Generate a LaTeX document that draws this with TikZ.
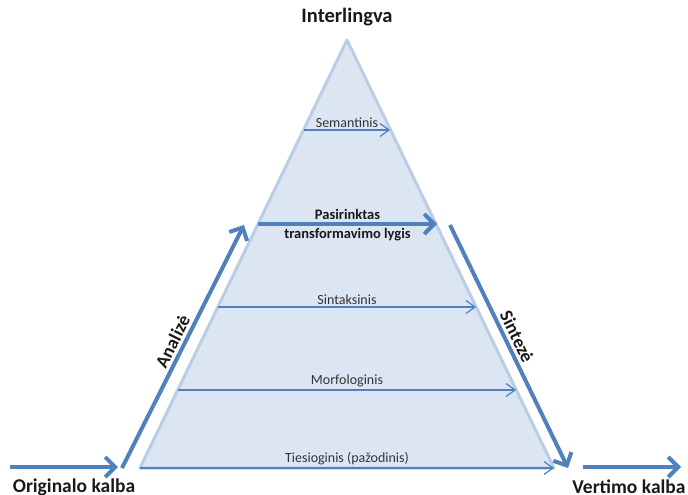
\documentclass[tikz,border=0pt]{standalone}
\usepackage{fontspec}
\setmainfont{Carlito}
\usetikzlibrary{arrows.meta}
\definecolor{pyrfill}{HTML}{DCE6F2}
\definecolor{pyredge}{HTML}{B9CDE5}
\definecolor{arrblue}{HTML}{4F81BD}

\begin{document}
\begin{tikzpicture}[x=1pt, y=-1pt,
  lvl/.style={font=\fontsize{14}{16}\selectfont, text=black!80, inner sep=2pt},
  lvlb/.style={font=\fontsize{14.5}{17}\selectfont\bfseries, text=black!90, inner sep=2pt},
  bigl/.style={font=\fontsize{19.5}{23}\selectfont\bfseries, text=black!90},
  slopel/.style={font=\fontsize{18.5}{22}\selectfont\bfseries, text=black!90, sloped, above, inner sep=3pt},
  thinarr/.style={draw=arrblue, line width=1.2pt, -{Straight Barb[length=9pt, width=13pt]}},
  thickarr/.style={draw=arrblue, line width=4pt, -{Straight Barb[length=10pt, width=20pt]}},
]
\useasboundingbox (0,0) rectangle (688,495);

% Pyramid
\coordinate (apex) at (347,40);
\coordinate (bl)   at (140,468);
\coordinate (br)   at (554,468);
\fill[pyrfill] (apex) -- (bl) -- (br) -- cycle;
\draw[pyredge, line width=3pt, line join=round] (apex) -- (bl) -- (br) -- cycle;

\node[bigl, font=\fontsize{20.5}{24}\selectfont\bfseries] (inter) at (347,17) {Interlingva};

% Levels
\coordinate (semL) at (304,130);  \coordinate (semR) at (390,130);
\coordinate (pasL) at (258,224);  \coordinate (pasR) at (437,224);
\coordinate (sinL) at (218,307);  \coordinate (sinR) at (476,307);
\coordinate (morL) at (178,390);  \coordinate (morR) at (516,390);

\draw[thinarr] (semL) -- node[above, lvl] (semlbl) {Semantinis} (semR);
\draw[thickarr] (pasL) -- node[above, lvlb] (paslbl) {Pasirinktas}
  node[below, lvlb] (trlbl) {transformavimo lygis} (pasR);
\draw[thinarr] (sinL) -- node[above, lvl] (sinlbl) {Sintaksinis} (sinR);
\draw[thinarr] (morL) -- node[above, lvl] (morlbl) {Morfologinis} (morR);
\draw[thinarr] (bl) -- node[above, lvl] (tielbl) {Tiesioginis (pažodinis)} (br);

% Analysis and synthesis
\coordinate (anS) at (122,468);  \coordinate (anE) at (244,225);
\coordinate (snS) at (450,225);  \coordinate (snE) at (568,468);
\draw[thickarr] (anS) -- node[slopel, pos=0.5] (anlbl) {Analizė} (anE);
\draw[thickarr] (snS) -- node[slopel, pos=0.48] (snlbl) {Sintezė} (snE);

% Source and target language
\coordinate (inS)  at (10,467);  \coordinate (inE)  at (118,467);
\coordinate (outS) at (583,467); \coordinate (outE) at (681,467);
\draw[thickarr] (inS) -- (inE);
\draw[thickarr] (outS) -- (outE);
\node[bigl] (orig) at (74,487) {Originalo kalba};
\node[bigl] (vert) at (629,487) {Vertimo kalba};

\end{tikzpicture}
\end{document}
